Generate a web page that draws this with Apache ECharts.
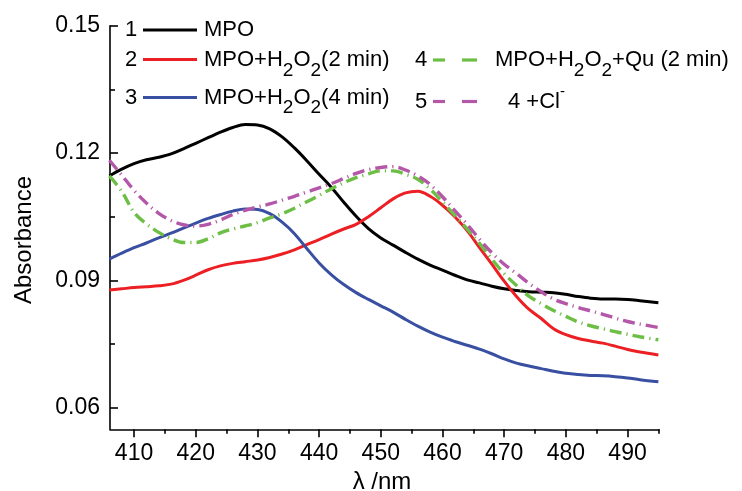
<!DOCTYPE html>
<html><head><meta charset="utf-8">
<script src="https://cdn.jsdelivr.net/npm/echarts@6/dist/echarts.min.js"></script>
<style>html,body{margin:0;padding:0;background:#fff}#c{width:742px;height:491px}</style>
</head><body><div id="c"></div>
<script>
const wavelengths = [406,408,410,412,414,416,418,420,422,424,426,428,430,432,434,436,438,440,442,444,446,448,450,452,454,456,458,460,462,464,466,468,470,472,474,476,478,480,482,484,486,488,490,492,495];
const mpo = [0.1146,0.1162,0.1175,0.1184,0.1190,0.1198,0.1210,0.1223,0.1236,0.1249,0.1260,0.1267,0.1266,0.1257,0.1238,0.1212,0.1182,0.1150,0.1119,0.1084,0.1051,0.1022,0.1000,0.0983,0.0966,0.0950,0.0936,0.0924,0.0912,0.0901,0.0894,0.0886,0.0880,0.0876,0.0873,0.0872,0.0871,0.0867,0.0862,0.0858,0.0856,0.0856,0.0855,0.0852,0.0847];
const mpoH2O2_2min = [0.0877,0.0880,0.0883,0.0885,0.0887,0.0891,0.0900,0.0912,0.0925,0.0934,0.0940,0.0944,0.0948,0.0954,0.0962,0.0972,0.0984,0.0996,0.1009,0.1021,0.1032,0.1050,0.1071,0.1092,0.1106,0.1110,0.1098,0.1077,0.1050,0.1017,0.0977,0.0938,0.0898,0.0862,0.0832,0.0810,0.0786,0.0772,0.0763,0.0757,0.0752,0.0745,0.0737,0.0731,0.0724];
const mpoH2O2_4min = [0.0950,0.0964,0.0977,0.0988,0.1000,0.1011,0.1023,0.1035,0.1046,0.1055,0.1063,0.1068,0.1067,0.1057,0.1037,0.1010,0.0975,0.0941,0.0913,0.0890,0.0871,0.0855,0.0840,0.0825,0.0808,0.0792,0.0778,0.0766,0.0756,0.0747,0.0738,0.0727,0.0715,0.0705,0.0698,0.0692,0.0686,0.0681,0.0678,0.0676,0.0675,0.0673,0.0670,0.0666,0.0661];
const mpoH2O2Qu_2min = [0.1146,0.1110,0.1060,0.1033,0.1013,0.0998,0.0989,0.0989,0.0998,0.1012,0.1021,0.1028,0.1036,0.1047,0.1057,0.1070,0.1085,0.1100,0.1116,0.1130,0.1142,0.1151,0.1158,0.1158,0.1150,0.1138,0.1115,0.1085,0.1053,0.1021,0.0987,0.0950,0.0916,0.0888,0.0863,0.0845,0.0829,0.0815,0.0802,0.0793,0.0786,0.0779,0.0773,0.0767,0.0760];
const withCl = [0.1183,0.1148,0.1112,0.1082,0.1058,0.1041,0.1031,0.1028,0.1032,0.1042,0.1055,0.1065,0.1073,0.1080,0.1089,0.1098,0.1108,0.1118,0.1128,0.1140,0.1152,0.1161,0.1166,0.1168,0.1160,0.1146,0.1126,0.1097,0.1064,0.1032,0.0997,0.0965,0.0938,0.0916,0.0893,0.0873,0.0856,0.0845,0.0836,0.0828,0.0820,0.0811,0.0803,0.0797,0.0789];
const xTickValues = [410,420,430,440,450,460,470,480,490];
const xMinorTicks = [415,425,435,445,455,465,475,485,495];
const yTickValues = [0.06,0.09,0.12,0.15];
const yMinorTicks = [0.075,0.105,0.135];

const FONT = '"Liberation Sans", Arial, sans-serif';
const X_MIN = 406.1, X_MAX = 495.1, Y_MIN = 0.0549, Y_MAX = 0.15;

function pairs(vals){ return wavelengths.map((w,i)=>[w, vals[i]]); }
function line(name, vals, color, type, width){
  return {type:'line', name, data:pairs(vals), smooth:0.35, showSymbol:false, symbol:'none',
    lineStyle:{color, width, type}, emphasis:{disabled:true}};
}
const axisLine = {show:true, lineStyle:{color:'#000', width:1.6}};

const mctx = document.createElement('canvas').getContext('2d');
function measure(t, fs){ mctx.font = fs + 'px ' + FONT; return mctx.measureText(t).width; }
function txt(x,y,text,fs,align){
  return {type:'text', x, y, z:100, style:{text, fontSize:fs||22, fontFamily:FONT, fill:'#000', align:align||'left', verticalAlign:'middle'}};
}
// pieces: [text, kind] kind: 'n' normal, 's' subscript, 'p' superscript
function pieces(x, y, list){
  const out = [];
  let cx = x;
  list.forEach(([t, k])=>{
    const fs = k === 'n' ? 22 : (k === 's' ? 19 : 15);
    const dy = k === 'n' ? 0 : (k === 's' ? 10.5 : -10);
    out.push(txt(cx, y + dy, t, fs));
    cx += measure(t, fs);
  });
  return out;
}
function seg(x1,y,x2,color){
  return {type:'line', z:100, shape:{x1, y1:y, x2, y2:y}, style:{stroke:color, lineWidth:3.2}};
}

const graphic = [].concat(
  [txt(131,30,'1',22,'center'), seg(143,30,197,'#000'), txt(204,30,'MPO')],
  [txt(131,60,'2',22,'center'), seg(143,59.5,197,'#ec2024')],
  pieces(204,60,[['MPO+H','n'],['2','s'],['O','n'],['2','s'],['(2 min)','n']]),
  [txt(131,97.5,'3',22,'center'), seg(143,97.5,197,'#394fa1')],
  pieces(204,97.5,[['MPO+H','n'],['2','s'],['O','n'],['2','s'],['(4 min)','n']]),
  [txt(421,60,'4',22,'center'), seg(433,60,445,'#6cbe45'), seg(462,60,477,'#6cbe45')],
  pieces(495,60,[['MPO+H','n'],['2','s'],['O','n'],['2','s'],['+Qu (2 min)','n']]),
  [txt(421,102,'5',22,'center'), seg(433,101.5,445,'#b457a8'), seg(462,101.5,477,'#b457a8')],
  pieces(508,102,[['4 +Cl','n'],['-','p']]),
  [{type:'text', x:24.6, y:240, rotation:Math.PI/2, z:100, style:{text:'Absorbance', fontSize:24, fontFamily:FONT, fill:'#000', align:'center', verticalAlign:'middle'}},
   {type:'text', x:382, y:482, z:100, style:{text:'λ /nm', fontSize:24, fontFamily:FONT, fill:'#000', align:'center', verticalAlign:'middle'}}]
);

const chart = echarts.init(document.getElementById('c'), null, {renderer:'canvas'});
chart.setOption({
  animation:false,
  backgroundColor:'#fff',
  grid:{left:110, right:83, top:25.7, bottom:61.7, containLabel:false, outerBoundsMode:'none'},
  xAxis:[
    {type:'value', min:X_MIN, max:X_MAX, position:'bottom', axisLine,
      axisTick:{show:true, inside:false, length:8, customValues:xTickValues, lineStyle:{color:'#000', width:1.6}},
      axisLabel:{show:true, customValues:xTickValues, fontSize:23, fontFamily:FONT, color:'#000', margin:13},
      splitLine:{show:false}},
    {type:'value', min:X_MIN, max:X_MAX, position:'bottom', axisLine:{show:false},
      axisTick:{show:true, inside:false, length:4.5, customValues:xMinorTicks, lineStyle:{color:'#000', width:1.6}},
      axisLabel:{show:false}, splitLine:{show:false}}
  ],
  yAxis:[
    {type:'value', min:Y_MIN, max:Y_MAX, position:'left', axisLine,
      axisTick:{show:true, inside:true, length:8, customValues:yTickValues, lineStyle:{color:'#000', width:1.6}},
      axisLabel:{show:true, customValues:yTickValues, fontSize:23, fontFamily:FONT, color:'#000', margin:10,
        formatter:v=>v.toFixed(2)},
      splitLine:{show:false}},
    {type:'value', min:Y_MIN, max:Y_MAX, position:'left', axisLine:{show:false},
      axisTick:{show:true, inside:true, length:5, customValues:yMinorTicks, lineStyle:{color:'#000', width:1.6}},
      axisLabel:{show:false}, splitLine:{show:false}}
  ],
  series:[
    line('MPO', mpo, '#000000', 'solid', 3),
    line('MPO+H2O2(2 min)', mpoH2O2_2min, '#ec2024', 'solid', 3),
    line('MPO+H2O2(4 min)', mpoH2O2_4min, '#394fa1', 'solid', 3),
    line('MPO+H2O2+Qu (2 min)', mpoH2O2Qu_2min, '#6cbe45', [12,5,1.2,5], 3.4),
    line('4 +Cl-', withCl, '#b457a8', [12,5,1.2,5], 3.4)
  ],
  graphic
});
</script></body></html>
